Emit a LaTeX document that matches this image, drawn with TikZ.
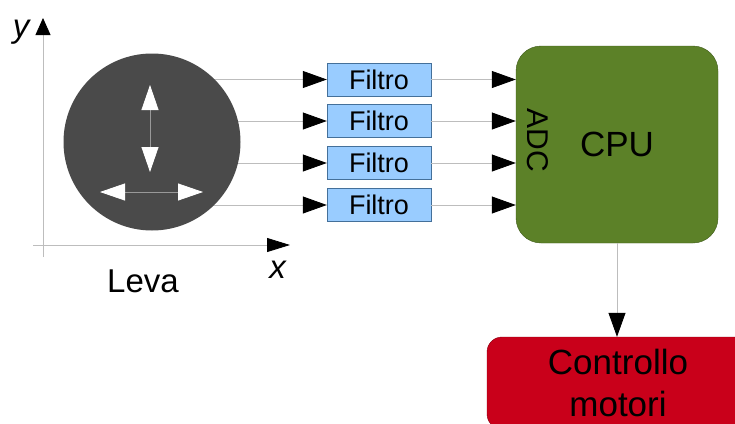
\documentclass[tikz,border=0pt]{standalone}
\usepackage{fontspec}
\setmainfont{Liberation Sans}
\usetikzlibrary{arrows.meta,backgrounds}

\definecolor{filtroblu}{HTML}{99CCFF}
\definecolor{filtrobordo}{HTML}{44709A}
\definecolor{cpuverde}{HTML}{5C8128}
\definecolor{cpubordo}{HTML}{3E5A1A}
\definecolor{motorosso}{HTML}{C9001A}
\definecolor{motorbordo}{HTML}{8A0012}
\definecolor{levagrigio}{HTML}{4A4A4A}
\definecolor{lineagrigia}{HTML}{BDBDBD}

\tikzset{
  filtro/.style={draw=filtrobordo, fill=filtroblu, minimum width=104pt, minimum height=33pt,
    inner sep=0pt, font=\fontsize{27}{32}\selectfont},
  freccia/.style={draw=lineagrigia, line width=0.8pt, -{Triangle[length=24pt,width=17pt,color=black]}},
  doppia/.style={draw=gray!80, line width=0.8pt,
    {Triangle[length=25pt,width=17pt,color=white]}-{Triangle[length=25pt,width=17pt,color=white]}},
  asse/.style={draw=lineagrigia, line width=0.8pt}
}

\begin{document}
\begin{tikzpicture}[x=1pt,y=-1pt]
\clip (0,0) rectangle (735,423);

% Leva
\node[circle, fill=levagrigio, minimum size=177pt, inner sep=0pt] (leva) at (152,142) {};
\node[font=\fontsize{33}{40}\selectfont] (nomeleva) at (143,281) {Leva};

\coordinate (su) at (150,85);
\coordinate (giu) at (150,172);
\coordinate (sx) at (100,192);
\coordinate (dx) at (203,192);
\draw[doppia] (su) -- (giu);
\draw[doppia] (sx) -- (dx);

% Assi
\coordinate (ybase) at (43,257);
\coordinate (yfine) at (43,18);
\coordinate (xbase) at (33,245);
\coordinate (xfine) at (290,245);
\draw[asse, -{Triangle[length=17pt,width=15pt,color=black]}] (ybase) -- (yfine);
\draw[asse, -{Triangle[length=23pt,width=14pt,color=black]}] (xbase) -- (xfine);
\node[font=\fontsize{33}{40}\selectfont] (ylab) at (22,32) {\textit{y}};
\node[font=\fontsize{33}{40}\selectfont] (xlab) at (278,270) {\textit{x}};

% Filtri
\node[filtro] (f1) at (379,79.5) {Filtro};
\node[filtro] (f2) at (379,121) {Filtro};
\node[filtro] (f3) at (379,163) {Filtro};
\node[filtro] (f4) at (379,205) {Filtro};

\begin{scope}[on background layer]
\draw[freccia] (leva.center |- f1.west) -- (f1.west);
\draw[freccia] (leva.center |- f2.west) -- (f2.west);
\draw[freccia] (leva.center |- f3.west) -- (f3.west);
\draw[freccia] (leva.center |- f4.west) -- (f4.west);
\end{scope}

% CPU
\node[draw=cpubordo, fill=cpuverde, rounded corners=25pt, minimum width=202pt,
  minimum height=197pt, font=\fontsize{35}{42}\selectfont] (cpu) at (617,144.5) {CPU};
\node[rotate=-90, font=\fontsize{30}{36}\selectfont] (adc) at (538,140) {ADC};

\draw[freccia] (f1.east) -- (f1.east -| cpu.west);
\draw[freccia] (f2.east) -- (f2.east -| cpu.west);
\draw[freccia] (f3.east) -- (f3.east -| cpu.west);
\draw[freccia] (f4.east) -- (f4.east -| cpu.west);

% Controllo motori
\node[draw=motorbordo, fill=motorosso, rounded corners=15pt, minimum width=262pt,
  minimum height=92pt, align=center, font=\fontsize{35}{42}\selectfont] (motori) at (618,383)
  {Controllo\\motori};

\draw[freccia] (cpu.south) -- (cpu.south |- motori.north);
\end{tikzpicture}
\end{document}
